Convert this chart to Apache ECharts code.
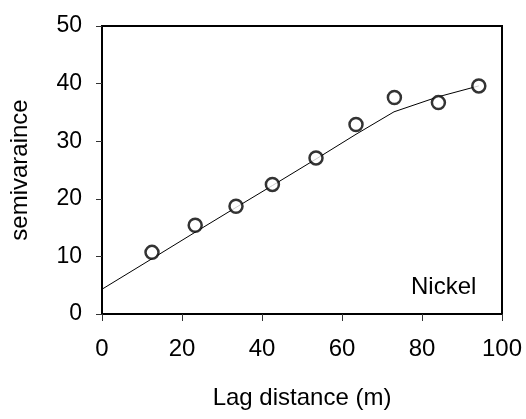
<!DOCTYPE html>
<html>
<head>
<meta charset="utf-8">
<script src="https://cdn.jsdelivr.net/npm/echarts@6/dist/echarts.min.js"></script>
<style>
  html, body { margin: 0; padding: 0; background: #fff; }
  #chart { width: 526px; height: 419px; }
</style>
</head>
<body>
<div id="chart"></div>
<script>
// Experimental semivariogram for nickel: lag distance (m) vs semivariance
const lagDistance = [12.5, 23.3, 33.5, 42.6, 53.5, 63.5, 73.1, 84.1, 94.2];
const semivariance = [10.7, 15.4, 18.7, 22.5, 27.1, 32.9, 37.6, 36.7, 39.6];

// Fitted model curve
const modelLag = [0, 12.5, 23.3, 33.5, 42.6, 53.5, 63.5, 73, 84, 94.2];
const modelValue = [4.3, 9.6, 14.2, 18.5, 22.3, 26.9, 31.2, 35.1, 37.7, 39.6];

const xTicks = { min: 0, max: 100, interval: 20 };
const yTicks = { min: 0, max: 50, interval: 10 };

const font = '"Liberation Sans", Arial, sans-serif';

const chart = echarts.init(document.getElementById('chart'));
chart.setOption({
  animation: false,
  backgroundColor: '#fff',
  grid: {
    left: 102, top: 26, right: 24, bottom: 105,
    show: true, borderColor: '#000', borderWidth: 2, backgroundColor: 'transparent'
  },
  xAxis: {
    type: 'value',
    min: xTicks.min, max: xTicks.max, interval: xTicks.interval,
    name: 'Lag distance (m)',
    nameLocation: 'middle',
    nameGap: 72,
    nameTextStyle: { fontFamily: font, fontSize: 24, color: '#000' },
    axisLine: { show: true, onZero: false, lineStyle: { color: '#000', width: 2 } },
    axisTick: { show: true, inside: false, length: 7, lineStyle: { color: '#333', width: 1 } },
    axisLabel: { margin: 23, fontFamily: font, fontSize: 24, color: '#000' },
    splitLine: { show: false }
  },
  yAxis: {
    type: 'value',
    min: yTicks.min, max: yTicks.max, interval: yTicks.interval,
    name: 'semivaraince',
    nameLocation: 'middle',
    nameGap: 70,
    nameRotate: 90,
    nameTextStyle: { fontFamily: font, fontSize: 24, color: '#000' },
    axisLine: { show: true, onZero: false, lineStyle: { color: '#000', width: 2 } },
    axisTick: { show: true, inside: false, length: 6, lineStyle: { color: '#333', width: 1 } },
    axisLabel: { margin: 20, fontFamily: font, fontSize: 23, color: '#000' },
    splitLine: { show: false }
  },
  graphic: [{
    type: 'text',
    left: 411, top: 275,
    style: { text: 'Nickel', font: '24px ' + font, fill: '#000' }
  }],
  series: [
    {
      type: 'line',
      data: modelLag.map((x, i) => [x, modelValue[i]]),
      showSymbol: false,
      symbol: 'none',
      lineStyle: { color: '#000', width: 1 },
      z: 2
    },
    {
      type: 'scatter',
      data: lagDistance.map((x, i) => [x, semivariance[i]]),
      symbol: 'circle',
      symbolSize: 13,
      itemStyle: { color: '#fff', borderColor: '#000', borderWidth: 2.5 },
      z: 3
    }
  ]
});
</script>
</body>
</html>
